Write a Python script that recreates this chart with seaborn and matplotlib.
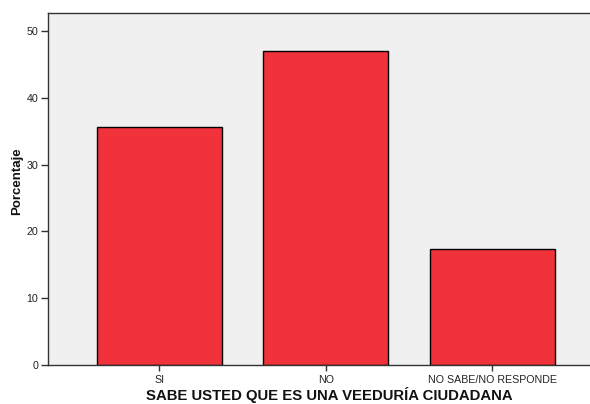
import matplotlib
matplotlib.use("Agg")
import matplotlib.pyplot as plt
import seaborn as sns
import pandas as pd

categories = ["SI", "NO", "NO SABE/NO RESPONDE"]
values = [35.6, 47.0, 17.4]
yticks = [0, 10, 20, 30, 40, 50]

sns.set_theme(style="white")
plt.rcParams['font.family'] = ['Liberation Sans', 'DejaVu Sans']

df = pd.DataFrame({"cat": categories, "val": values})

W, H = 590, 404
fig = plt.figure(figsize=(W / 100, H / 100), dpi=100)
left, right, top, bottom = 48, 603.5, 13, 365
ax = fig.add_axes([left / W, 1 - bottom / H, (right - left) / W, (bottom - top) / H])
ax.set_facecolor("#F0F0F0")

sns.barplot(data=df, x="cat", y="val", ax=ax, color="#F2323A", width=0.75,
            edgecolor="black", linewidth=1.0, saturation=1)

ax.set_xlim(-0.666, 2.666)
ax.set_ylim(0, 52.7)
ax.set_yticks(yticks)
ax.set_yticklabels([str(t) for t in yticks], fontsize=7.7, color="#222222")
ax.set_xticklabels(categories, fontsize=7.7, color="#222222")
ax.tick_params(axis="y", direction="out", length=5, width=1, color="#333333", left=True, pad=2)
ax.tick_params(axis="x", direction="out", length=4, width=1, color="#333333", bottom=True, pad=3)

for s in ["left", "bottom", "top"]:
    ax.spines[s].set_visible(True)
    ax.spines[s].set_color("#333333")
    ax.spines[s].set_linewidth(1.0)
ax.spines["right"].set_visible(False)

ax.set_xlabel("SABE USTED QUE ES UNA VEEDURÍA CIUDADANA", fontsize=10.7, fontweight="bold",
              color="#111111")
ax.set_ylabel("Porcentaje", fontsize=9.5, fontweight="bold", color="#111111")
ax.xaxis.set_label_coords((329 - left) / (right - left), -(387 - bottom) / (bottom - top))
ax.yaxis.set_label_coords(-(48 - 23) / (right - left), (365 - 181) / (bottom - top))

fig.savefig("out.png", dpi=100)
